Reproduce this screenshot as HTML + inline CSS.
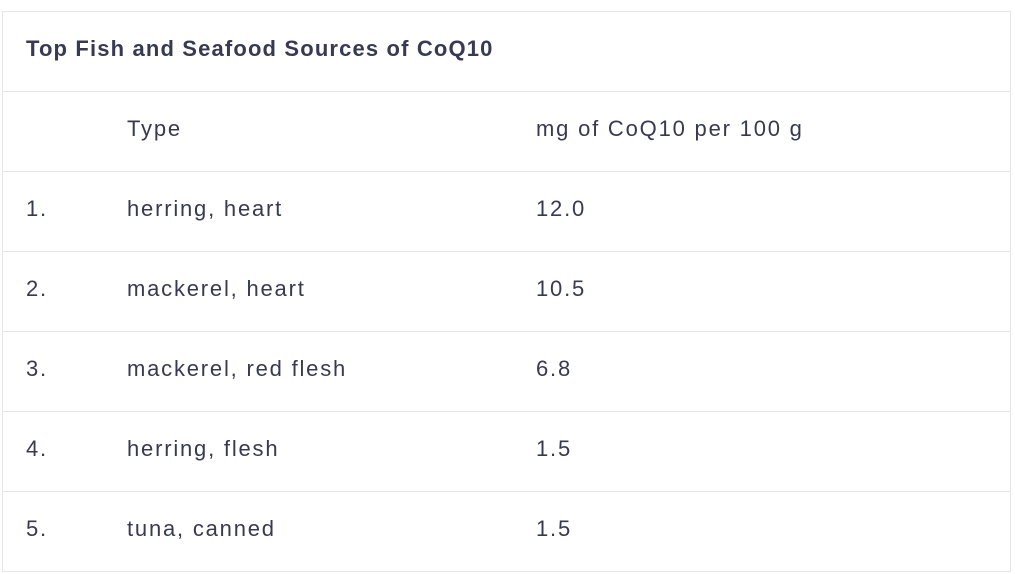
<!DOCTYPE html>
<html><head><meta charset="utf-8"><style>
body{margin:0;background:#fff;width:1015px;height:574px;position:relative;font-family:"Liberation Sans",sans-serif;color:#363a52;overflow:hidden}
.box{position:absolute;left:2px;top:11px;width:1007px;height:559px;border:1.5px solid #e6e6e6}
.line{position:absolute;left:2px;width:1009px;height:0;border-top:1.5px solid #e6e6e6}
.t{position:absolute;font-size:22px;line-height:24px;white-space:nowrap;letter-spacing:1.8px}
.title{font-weight:bold;font-size:22px;letter-spacing:1.15px}
</style></head><body>
<div class="box"></div>
<div class="t title" style="left:26px;top:37px">Top Fish and Seafood Sources of CoQ10</div>
<div class="line" style="top:91px"></div>
<div class="t" style="left:127px;top:117px">Type</div>
<div class="t" style="left:536px;top:117px">mg of CoQ10 per 100 g</div>
<div id="rows"></div>
<script>
const ranks=["1.","2.","3.","4.","5."];
const types=["herring, heart","mackerel, heart","mackerel, red flesh","herring, flesh","tuna, canned"];
const values=["12.0","10.5","6.8","1.5","1.5"];
const root=document.getElementById('rows');
for(let i=0;i<ranks.length;i++){
  const top=171+i*80;
  const ln=document.createElement('div');ln.className='line';ln.style.top=top+'px';
  
  
  root.appendChild(ln);
  const cols=[[26,ranks[i],'rank-cell'],[127,types[i],'type-cell'],[536,values[i],'value-cell']];
  for(const c of cols){
    const d=document.createElement('div');d.className='t';d.style.left=c[0]+'px';d.style.top=(top+26)+'px';d.textContent=c[1];
    
    
    root.appendChild(d);
  }
}
</script>
</body></html>
